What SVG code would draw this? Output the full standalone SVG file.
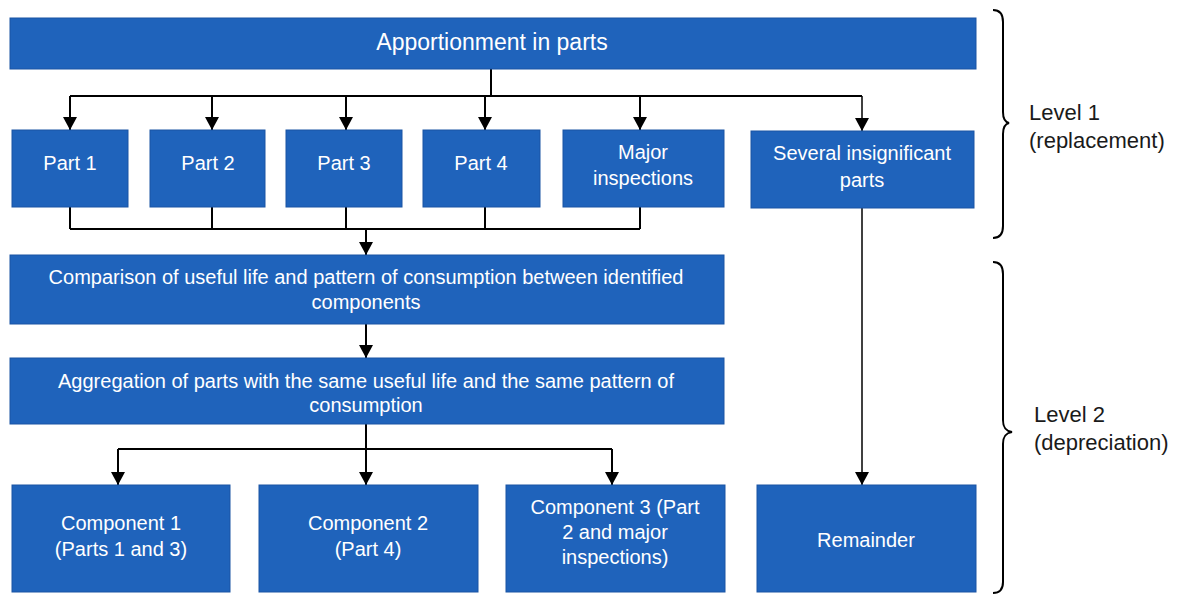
<svg xmlns="http://www.w3.org/2000/svg" width="1181" height="594" viewBox="0 0 1181 594">
<defs>
<style>
.box{fill:#1f63bb;stroke:#1a54a4;stroke-width:1}
.t{font-family:"Liberation Sans",Arial,sans-serif;font-size:20px;fill:#ffffff;text-anchor:middle}
.lbl{font-family:"Liberation Sans",Arial,sans-serif;font-size:22px;fill:#1a1a1a}
.ln{fill:none;stroke:#000;stroke-width:2}
.thin{fill:none;stroke:#000;stroke-width:1.5}
.brace{fill:none;stroke:#000;stroke-width:2}
</style>
<marker id="ah" viewBox="0 0 13 14" refX="13" refY="7" markerWidth="13" markerHeight="14" markerUnits="userSpaceOnUse" orient="auto">
<path d="M0,0 L13,7 L0,14 Z" fill="#000"/>
</marker>
</defs>
<rect width="1181" height="594" fill="#ffffff"/>

<g id="connectors">
<path class="ln" d="M491,69 V96 M70,96 H862"/>
<path class="ln" d="M70,96 V130" marker-end="url(#ah)"/>
<path class="ln" d="M212,96 V130" marker-end="url(#ah)"/>
<path class="ln" d="M346,96 V130" marker-end="url(#ah)"/>
<path class="ln" d="M485,96 V130" marker-end="url(#ah)"/>
<path class="ln" d="M640,96 V130" marker-end="url(#ah)"/>
<path class="thin" d="M862,96 V131" marker-end="url(#ah)"/>
<path class="ln" d="M70,207 V229 M212,207 V229 M346,207 V229 M485,207 V229 M640,207 V229 M70,229 H640"/>
<path class="ln" d="M366,229 V255" marker-end="url(#ah)"/>
<path class="ln" d="M366,324 V358" marker-end="url(#ah)"/>
<path class="ln" d="M366,424 V449 M118,449 H612"/>
<path class="ln" d="M118,449 V485" marker-end="url(#ah)"/>
<path class="ln" d="M366,449 V485" marker-end="url(#ah)"/>
<path class="ln" d="M612,449 V485" marker-end="url(#ah)"/>
<path class="thin" d="M862,208 V485" marker-end="url(#ah)"/>
</g>

<g id="apportionment"><rect class="box" x="10" y="18" width="966" height="51"/><text class="t" x="492" y="50" style="font-size:23px">Apportionment in parts</text></g>
<g id="part1"><rect class="box" x="12" y="130" width="116" height="77"/><text class="t" x="70" y="170">Part 1</text></g>
<g id="part2"><rect class="box" x="150" y="130" width="115" height="77"/><text class="t" x="208" y="170">Part 2</text></g>
<g id="part3"><rect class="box" x="286" y="130" width="116" height="77"/><text class="t" x="344" y="170">Part 3</text></g>
<g id="part4"><rect class="box" x="423" y="130" width="117" height="77"/><text class="t" x="481" y="170">Part 4</text></g>
<g id="major"><rect class="box" x="563" y="130" width="161" height="77"/><text class="t" x="643" y="159">Major</text><text class="t" x="643" y="185">inspections</text></g>
<g id="several"><rect class="box" x="751" y="131" width="223" height="77"/><text class="t" x="862" y="160">Several insignificant</text><text class="t" x="862" y="187">parts</text></g>
<g id="comparison"><rect class="box" x="10" y="255" width="714" height="69"/><text class="t" x="366" y="284">Comparison of useful life and pattern of consumption between identified</text><text class="t" x="366" y="309">components</text></g>
<g id="aggregation"><rect class="box" x="10" y="358" width="714" height="66"/><text class="t" x="366" y="388">Aggregation of parts with the same useful life and the same pattern of</text><text class="t" x="366" y="412">consumption</text></g>
<g id="component1"><rect class="box" x="12" y="485" width="218" height="107"/><text class="t" x="121" y="530">Component 1</text><text class="t" x="121" y="556">(Parts 1 and 3)</text></g>
<g id="component2"><rect class="box" x="259" y="485" width="219" height="107"/><text class="t" x="368" y="530">Component 2</text><text class="t" x="368" y="556">(Part 4)</text></g>
<g id="component3"><rect class="box" x="506" y="485" width="219" height="107"/><text class="t" x="615" y="514">Component 3 (Part</text><text class="t" x="615" y="539">2 and major</text><text class="t" x="615" y="564">inspections)</text></g>
<g id="remainder"><rect class="box" x="757" y="485" width="219" height="107"/><text class="t" x="866" y="547">Remainder</text></g>

<g id="level1">
<path class="brace" d="M993,10 C1000,10 1003,14 1003,22 L1003,112 C1003,119 1005,122 1009,123 C1005,124 1003,127 1003,134 L1003,226 C1003,234 1000,238 993,238"/>
<text class="lbl" x="1029" y="120">Level 1</text>
<text class="lbl" x="1029" y="148">(replacement)</text>
</g>
<g id="level2">
<path class="brace" d="M993,262 C1000,262 1003,266 1003,274 L1003,420 C1003,428 1006,431 1012,432 C1006,433 1003,436 1003,444 L1003,582 C1003,589 1000,593 993,593"/>
<text class="lbl" x="1034" y="422">Level 2</text>
<text class="lbl" x="1034" y="450">(depreciation)</text>
</g>
</svg>
